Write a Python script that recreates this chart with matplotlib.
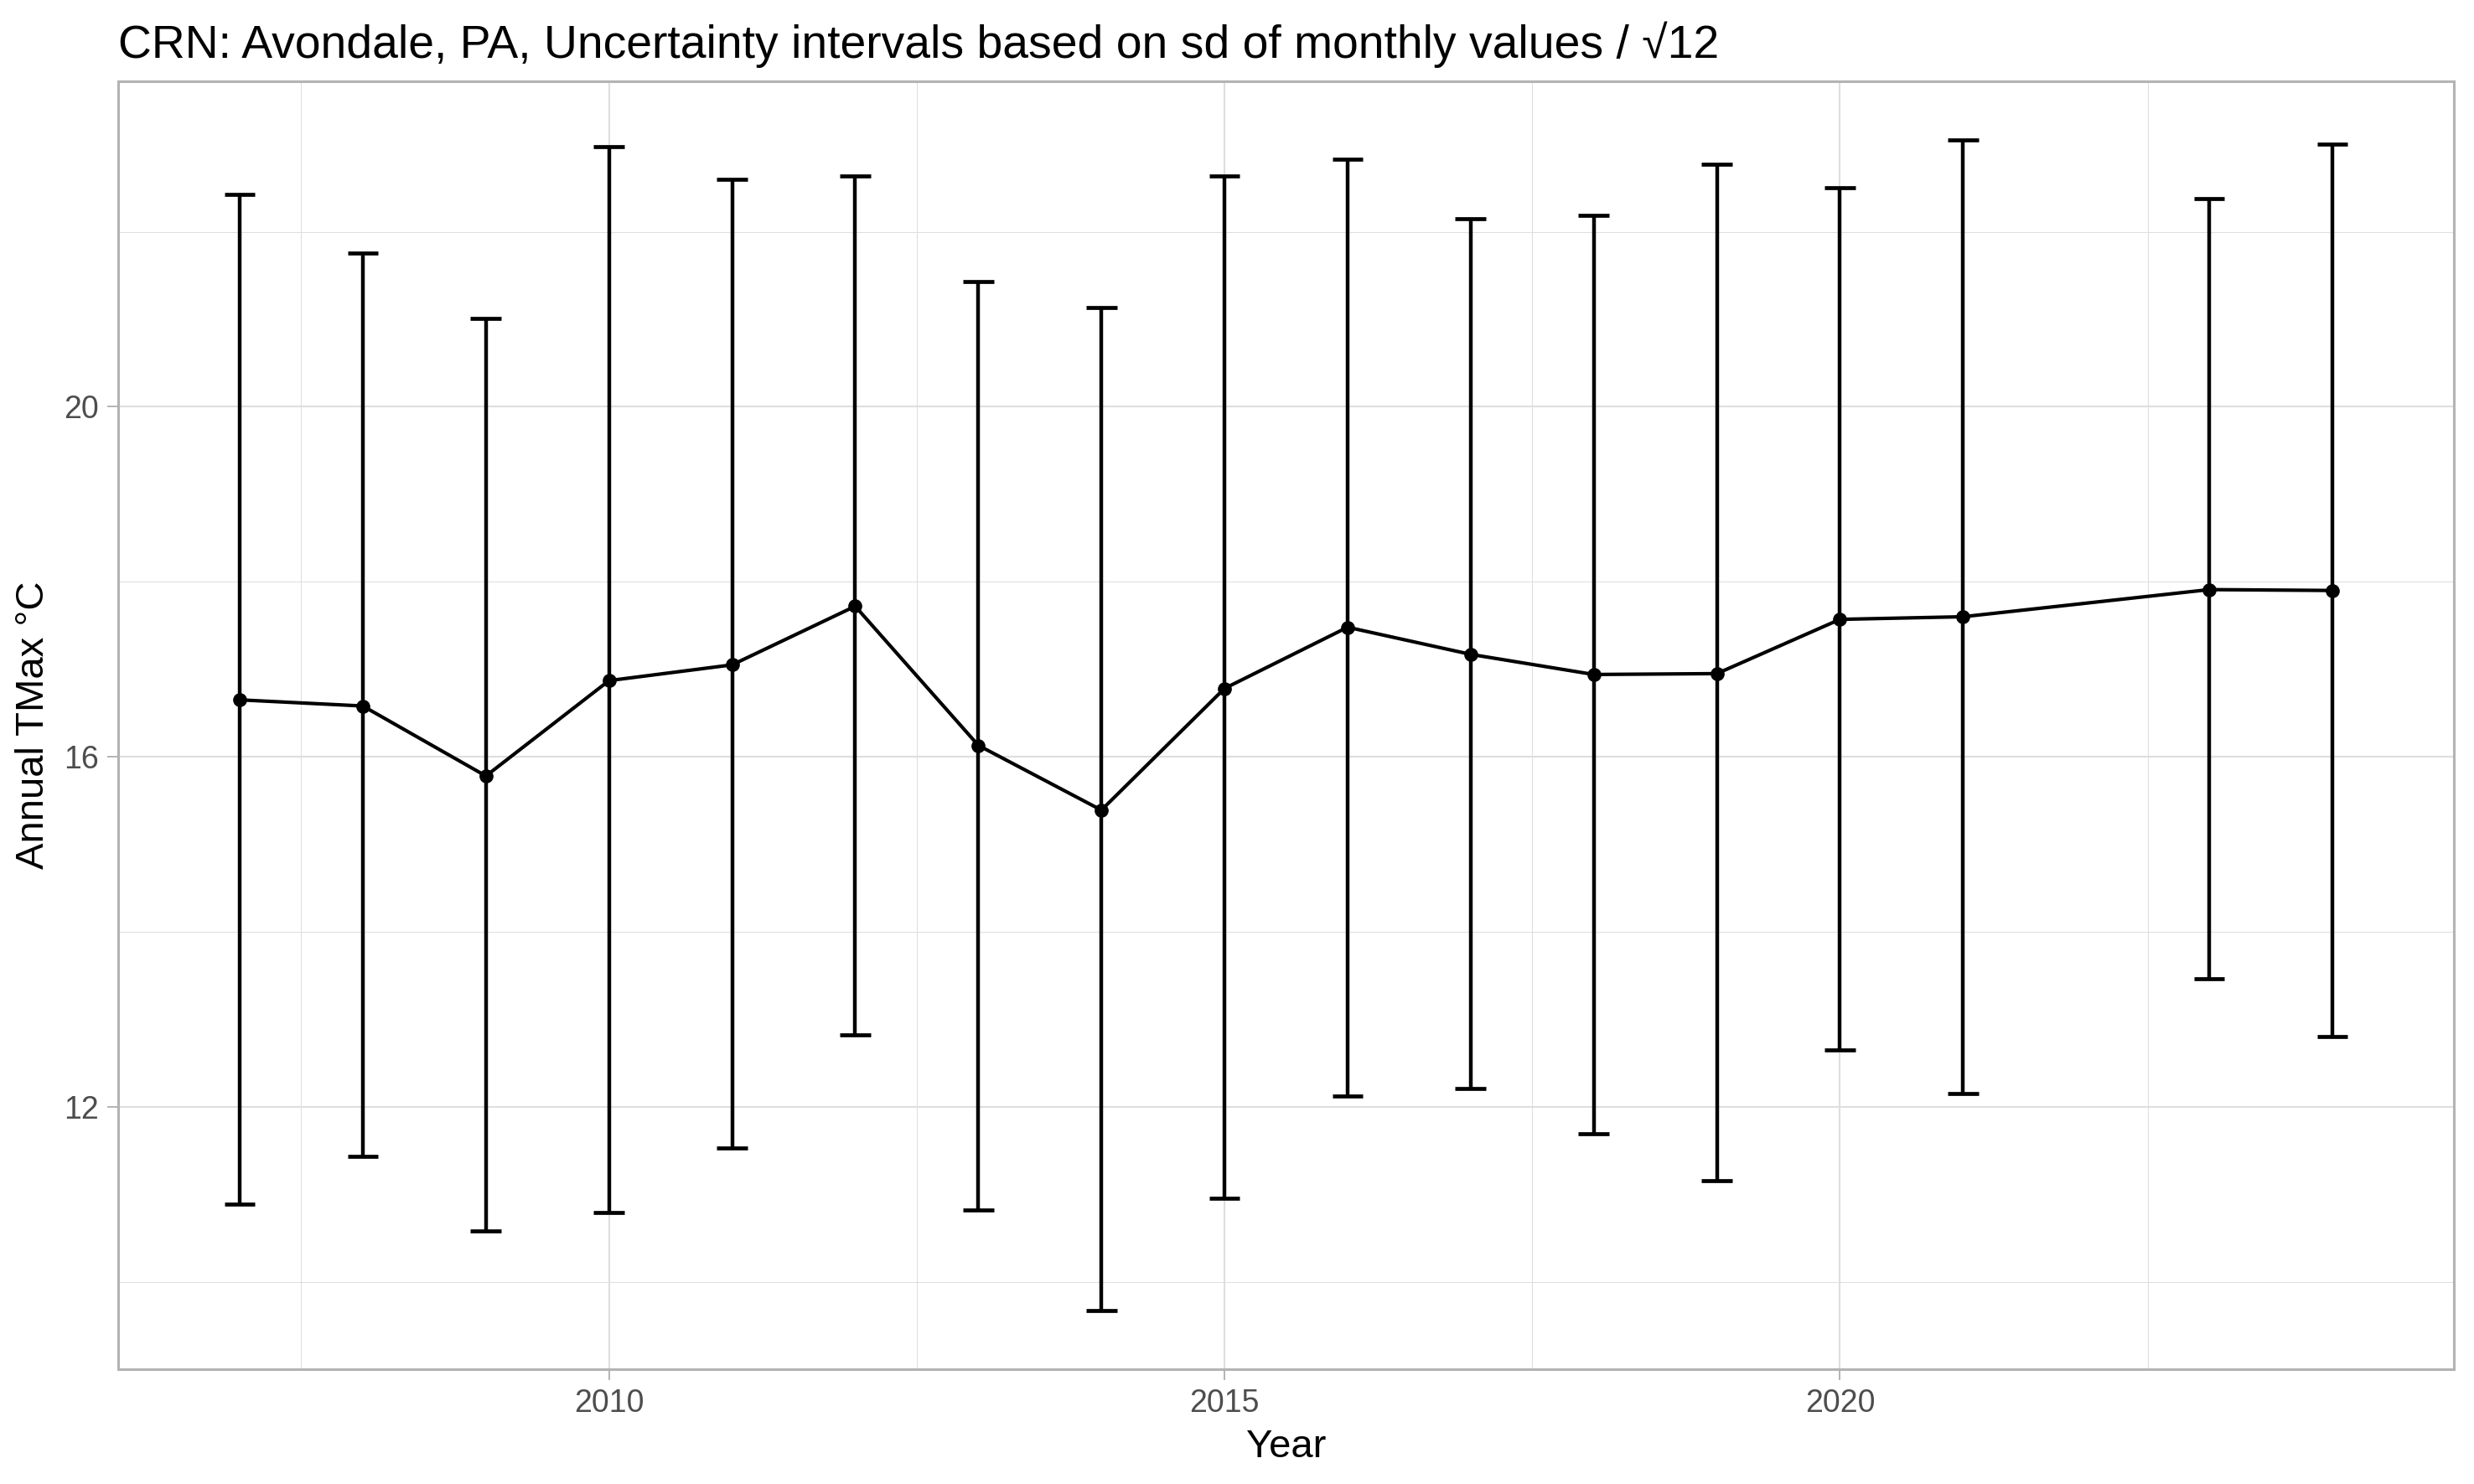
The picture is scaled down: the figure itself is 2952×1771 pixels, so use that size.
import matplotlib
matplotlib.use("Agg")
import matplotlib.pyplot as plt
from matplotlib.ticker import FixedLocator
import numpy as np

plt.rcParams['font.family'] = ['Liberation Sans', 'DejaVu Sans']

years = [2007, 2008, 2009, 2010, 2011, 2012, 2013, 2014, 2015,
         2016, 2017, 2018, 2019, 2020, 2021, 2023, 2024]
tmax = [16.65, 16.58, 15.78, 16.87, 17.05, 17.72, 16.13, 15.39, 16.78,
        17.48, 17.17, 16.94, 16.95, 17.57, 17.60, 17.91, 17.90]
upper = [22.43, 21.76, 21.01, 22.97, 22.60, 22.64, 21.43, 21.13, 22.64,
         22.83, 22.15, 22.19, 22.77, 22.50, 23.05, 22.38, 23.00]
lower = [10.89, 11.43, 10.58, 10.79, 11.53, 12.82, 10.82, 9.67, 10.95,
         12.12, 12.21, 11.69, 11.16, 12.65, 12.15, 13.46, 12.80]

title = "CRN: Avondale, PA, Uncertainty intervals based on sd of monthly values / \u221a12"
x_label = "Year"
y_label = "Annual TMax \u00b0C"
x_major = [2010, 2015, 2020]
x_minor = [2007.5, 2012.5, 2017.5, 2022.5]
y_major = [12, 16, 20]
y_minor = [10, 14, 18, 22]

GRID = '#DEDEDE'
BORDER = '#B3B3B3'
TICK_TEXT = '#4D4D4D'
CAP = 0.125  # half width of the error bar caps, in years

fig = plt.figure(figsize=(29.52, 17.71), dpi=100)
ax = fig.add_axes([0.04776, 0.07736, 0.94411, 0.86787])

x = np.array(years, dtype=float)
lo = np.array(lower)
hi = np.array(upper)

# error bars: vertical line plus caps
ax.vlines(x, lo, hi, color='black', linewidth=3.2, zorder=3)
ax.hlines(lo, x - CAP, x + CAP, color='black', linewidth=3.4, zorder=3)
ax.hlines(hi, x - CAP, x + CAP, color='black', linewidth=3.4, zorder=3)

ax.plot(x, tmax, color='black', linewidth=3.0, zorder=4)
ax.plot(x, tmax, 'o', color='black', markersize=11, zorder=5)

# ggplot style 5% expansion
x0, x1 = x.min() - CAP, x.max() + CAP
pad = (x1 - x0) * 0.05
ax.set_xlim(x0 - pad, x1 + pad)
y0, y1 = lo.min(), hi.max()
pad = (y1 - y0) * 0.05
ax.set_ylim(y0 - pad, y1 + pad)

ax.xaxis.set_major_locator(FixedLocator(x_major))
ax.xaxis.set_minor_locator(FixedLocator(x_minor))
ax.yaxis.set_major_locator(FixedLocator(y_major))
ax.yaxis.set_minor_locator(FixedLocator(y_minor))
ax.set_xticklabels([str(v) for v in x_major])
ax.set_yticklabels([str(v) for v in y_major])

ax.grid(which='major', color=GRID, linewidth=1.5, zorder=0)
ax.grid(which='minor', color=GRID, linewidth=0.75, zorder=0)
ax.set_axisbelow(True)

for side in ax.spines.values():
    side.set_color(BORDER)
    side.set_linewidth(2.2)

ax.tick_params(which='major', length=9.5, width=1.4, color=BORDER,
               labelsize=27, labelcolor=TICK_TEXT, pad=7)
ax.tick_params(which='minor', length=0)

ax.set_xlabel(x_label, fontsize=34, labelpad=9)
ax.set_ylabel(y_label, fontsize=34, labelpad=10)
ax.set_title(title, fontsize=39.8, loc='left', pad=20)

fig.savefig("out.png", dpi=100, facecolor='white')
plt.close(fig)
